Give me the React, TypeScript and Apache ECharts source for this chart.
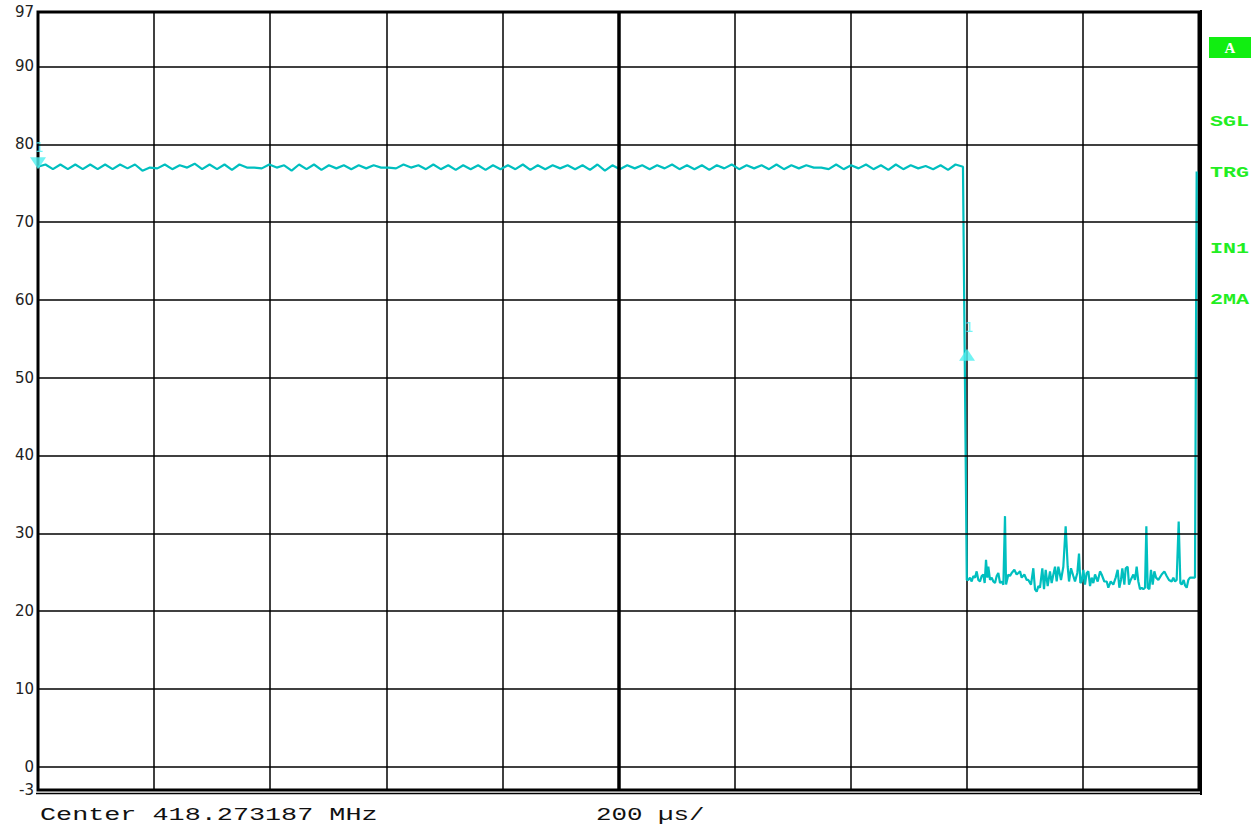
import React, { useEffect, useRef } from "react";
import * as echarts from "echarts";

// ---- axis definitions ----
const sweepStartUs = 0;
const sweepEndUs = 2000;
const xDivisionUs = 200;
const centerTimeUs = 1000;
const levelMin = -3;
const levelMax = 97;
const yTickLabels = [-3, 0, 10, 20, 30, 40, 50, 60, 70, 80, 90, 97];
const gridLevels = [0, 10, 20, 30, 40, 50, 60, 70, 80, 90];

// ---- trace: carrier-on part (sampled every rippleStepUs) ----
const rippleStepUs = 12.85;
const rippleLevels = [
  77.1, 77.4, 76.8, 77.4, 76.8, 77.4, 76.8, 77.4, 76.8, 77.4,
  76.8, 77.4, 76.9, 77.4, 76.6, 77.0, 76.9, 77.4, 76.8, 77.3,
  77.0, 77.5, 76.8, 77.4, 76.8, 77.4, 76.7, 77.4, 77.0, 77.0,
  76.9, 77.4, 77.0, 77.3, 76.6, 77.4, 76.8, 77.4, 76.7, 77.3,
  76.9, 77.3, 76.8, 77.3, 76.9, 77.3, 77.0, 77.0, 76.9, 77.4,
  77.0, 77.3, 76.8, 77.4, 76.8, 77.3, 76.7, 77.3, 76.8, 77.3,
  76.7, 77.3, 76.8, 77.3, 76.8, 77.4, 76.7, 77.3, 76.8, 77.3,
  76.9, 77.3, 76.8, 77.3, 76.7, 77.4, 76.6, 77.3, 76.8, 77.3,
  76.9, 77.3, 76.8, 77.3, 76.9, 77.4, 76.8, 77.3, 76.8, 77.3,
  76.7, 77.3, 76.9, 77.4, 76.8, 77.3, 76.9, 77.3, 76.8, 77.4,
  76.8, 77.3, 76.9, 77.3, 77.0, 77.0, 76.8, 77.4, 76.8, 77.3,
  76.9, 77.4, 76.8, 77.3, 76.7, 77.4, 76.8, 77.3, 76.9, 77.2,
  76.8, 77.3, 76.7, 77.4, 77.1,
];

// ---- trace: carrier-off part (noise floor) ----
const noiseTimesUs = [
  1600.0, 1602.7, 1605.5, 1608.4, 1611.3, 1614.2, 1617.0, 1619.9, 1622.8, 1625.6, 1628.5,
  1630.8, 1633.1, 1635.4, 1637.1, 1640.0, 1642.9, 1645.7, 1648.6, 1651.5, 1654.3,
  1657.2, 1660.1, 1663.0, 1665.8, 1667.6, 1671.6, 1674.4, 1677.3, 1681.9, 1685.9,
  1688.8, 1691.7, 1694.5, 1699.1, 1703.2, 1706.0, 1710.6, 1714.6, 1717.5, 1720.4,
  1723.3, 1726.1, 1730.1, 1733.0, 1735.9, 1739.3, 1743.3, 1746.2, 1749.1, 1752.0,
  1754.8, 1757.7, 1762.3, 1766.3, 1770.3, 1773.8, 1776.1, 1779.5, 1783.5, 1786.4,
  1790.4, 1793.3, 1795.6, 1797.9, 1800.8, 1803.6, 1806.5, 1809.4, 1812.3, 1815.1,
  1818.0, 1820.9, 1825.5, 1829.5, 1832.3, 1836.9, 1841.0, 1843.8, 1847.9, 1852.4,
  1856.5, 1859.9, 1862.8, 1865.6, 1867.9, 1871.4, 1873.7, 1877.1, 1879.4, 1882.3,
  1886.9, 1889.8, 1892.6, 1895.5, 1898.4, 1901.3, 1904.1, 1907.0, 1909.3, 1911.6,
  1914.5, 1917.3, 1920.2, 1923.1, 1926.0, 1930.0, 1935.7, 1940.3, 1944.3, 1948.3,
  1952.9, 1955.8, 1958.7, 1961.5, 1965.0, 1967.9, 1970.2, 1973.6, 1975.9, 1978.8,
  1981.6, 1984.5, 1987.4, 1990.8, 1993.1, 1996.0,
];
const noiseLevels = [
  24.0, 24.0, 24.3, 23.8, 24.5, 24.3, 25.1, 24.0, 23.8, 24.5, 24.7,
  23.6, 26.6, 24.3, 25.7, 24.0, 24.3, 23.8, 23.6, 24.5, 24.9,
  23.6, 23.8, 23.4, 32.2, 23.4, 24.7, 24.5, 24.9, 25.3, 24.7,
  24.9, 25.1, 24.3, 24.7, 24.0, 24.0, 23.4, 25.5, 22.8, 22.5,
  23.2, 23.0, 25.5, 22.8, 25.3, 23.2, 25.1, 23.6, 24.7, 25.7,
  23.8, 25.7, 24.0, 25.7, 30.9, 25.7, 23.8, 25.5, 24.5, 23.8,
  24.9, 27.4, 23.6, 23.8, 25.3, 23.4, 24.9, 25.1, 23.2, 24.3,
  23.6, 24.7, 23.8, 25.1, 24.7, 23.8, 23.8, 23.0, 23.8, 23.4,
  24.3, 25.3, 23.0, 24.0, 25.5, 23.4, 25.5, 25.7, 23.4, 24.0,
  24.7, 24.0, 25.7, 23.8, 22.8, 23.0, 22.8, 23.0, 30.9, 23.0,
  22.8, 25.3, 23.4, 25.1, 24.3, 24.0, 24.7, 25.1, 24.5, 24.0,
  23.8, 24.3, 23.8, 24.0, 31.5, 23.6, 23.4, 24.0, 23.3, 23.0,
  24.0, 24.3, 24.3, 24.3, 24.3, 76.5,
];

// ---- markers ----
const markerNames = ["1", "1"];
const markerTimesUs = [0, 1600.4];
const markerLevels = [76.8, 53.7];

// ---- annotation texts ----
const centerText = "Center 418.273187 MHz";
const spanText = "200 µs/";
const statusBoxText = "A";
const statusLabels = ["SGL", "TRG", "IN1", "2MA"];
const statusLabelY = [122, 173, 249, 300];

const TRACE = "#00bfbf";
const MARKER = "#4ff0f0";
const GREEN = "#22ee22";

export default function App() {
  const ref = useRef<HTMLDivElement>(null);

  useEffect(() => {
    document.body.style.margin = "0";
    if (!ref.current) return;
    const chart = echarts.init(ref.current, undefined, { renderer: "svg" });

    const traceData: [number, number][] = [];
    rippleLevels.forEach((v, i) => traceData.push([sweepStartUs + i * rippleStepUs, v]));
    noiseTimesUs.forEach((t, i) => traceData.push([t, noiseLevels[i]]));

    const markerData = markerNames.map((name, i) => {
      const down = i === 0;
      return {
        name,
        value: [markerTimesUs[i], markerLevels[i]],
        symbol: down ? "path://M0,0L16,0L8,12Z" : "path://M8,0L16,12L0,12Z",
        symbolSize: [16, 12],
        symbolOffset: [0, down ? "-50%" : "50%"],
      };
    });

    const markerLabelData = markerNames.map((name, i) => ({
      name,
      value: [markerTimesUs[i], markerLevels[i]],
      label: { distance: i === 0 ? 15 : 14, offset: [i === 0 ? 1 : 2, 0] },
    }));

    const statusGraphics = statusLabels.map((t, i) => ({
      type: "text",
      x: 1210,
      y: statusLabelY[i],
      scaleX: 1.55,
      style: {
        text: t,
        fill: GREEN,
        font: 'bold 14px "Liberation Mono"',
        textAlign: "left",
        textVerticalAlign: "middle",
        align: "left",
        verticalAlign: "middle",
      },
    }));

    chart.setOption({
      animation: false,
      backgroundColor: "#ffffff",
      grid: {
        left: 38,
        top: 12,
        right: 58,
        bottom: 37,
        show: true,
        borderColor: "#000",
        borderWidth: 3,
        backgroundColor: "#fff",
      },
      xAxis: {
        type: "value",
        min: sweepStartUs,
        max: sweepEndUs,
        interval: xDivisionUs,
        axisLabel: { show: false },
        axisTick: { show: false },
        axisLine: { show: false },
        splitLine: { show: true, lineStyle: { color: "#000", width: 1.5 } },
      },
      yAxis: {
        type: "value",
        min: levelMin,
        max: levelMax,
        axisLine: { show: false },
        axisTick: { show: false },
        splitLine: { show: false },
        axisLabel: {
          customValues: yTickLabels,
          color: "#222",
          fontSize: 15,
          fontFamily: "DejaVu Sans",
          margin: 4,
        },
      },
      series: [
        {
          type: "line",
          data: [],
          z: 1,
          silent: true,
          markLine: {
            silent: true,
            symbol: ["none", "none"],
            label: { show: false },
            lineStyle: { color: "#000", width: 1.5, type: "solid" },
            data: [
              ...gridLevels.map((v) => ({ yAxis: v })),
              { xAxis: centerTimeUs, lineStyle: { color: "#000", width: 3.5, type: "solid" } },
            ],
          },
        },
        {
          type: "line",
          data: traceData,
          showSymbol: false,
          z: 3,
          lineStyle: { color: TRACE, width: 2.2 },
          itemStyle: { color: TRACE },
        },
        {
          type: "scatter",
          data: markerData,
          z: 4,
          clip: false,
          itemStyle: { color: MARKER },
        },
        {
          type: "scatter",
          data: markerLabelData,
          z: 4,
          clip: false,
          symbol: "rect",
          symbolSize: 1,
          itemStyle: { color: "rgba(0,0,0,0)" },
          label: {
            show: true,
            position: "top",
            formatter: "{b}",
            color: MARKER,
            fontSize: 14,
            fontFamily: "DejaVu Sans Mono",
          },
        },
      ],
      graphic: [
        { type: "line", shape: { x1: 36, y1: 793.5, x2: 1201, y2: 793.5 }, style: { stroke: "#000", lineWidth: 1.5 } },
        { type: "line", shape: { x1: 1201, y1: 10, x2: 1201, y2: 795 }, style: { stroke: "#000", lineWidth: 2 } },
        { type: "rect", shape: { x: 1209, y: 37, width: 42, height: 21 }, style: { fill: "#11ee11" } },
        {
          type: "text",
          x: 1230,
          y: 48,
          style: {
            text: statusBoxText,
            fill: "#fff",
            font: 'bold 15px "Liberation Serif"',
            textAlign: "center",
            textVerticalAlign: "middle",
            align: "center",
            verticalAlign: "middle",
          },
        },
        ...statusGraphics,
        {
          type: "text",
          x: 40,
          y: 815,
          scaleX: 1.41,
          style: {
            text: centerText,
            fill: "#111",
            font: '19px "Liberation Mono"',
            textAlign: "left",
            textVerticalAlign: "middle",
            align: "left",
            verticalAlign: "middle",
          },
        },
        {
          type: "text",
          x: 596,
          y: 815,
          scaleX: 1.36,
          style: {
            text: spanText,
            fill: "#111",
            font: '19px "Liberation Mono"',
            textAlign: "left",
            textVerticalAlign: "middle",
            align: "left",
            verticalAlign: "middle",
          },
        },
      ],
    });

    return () => chart.dispose();
  }, []);

  return <div ref={ref} style={{ width: 1257, height: 827 }} />;
}
